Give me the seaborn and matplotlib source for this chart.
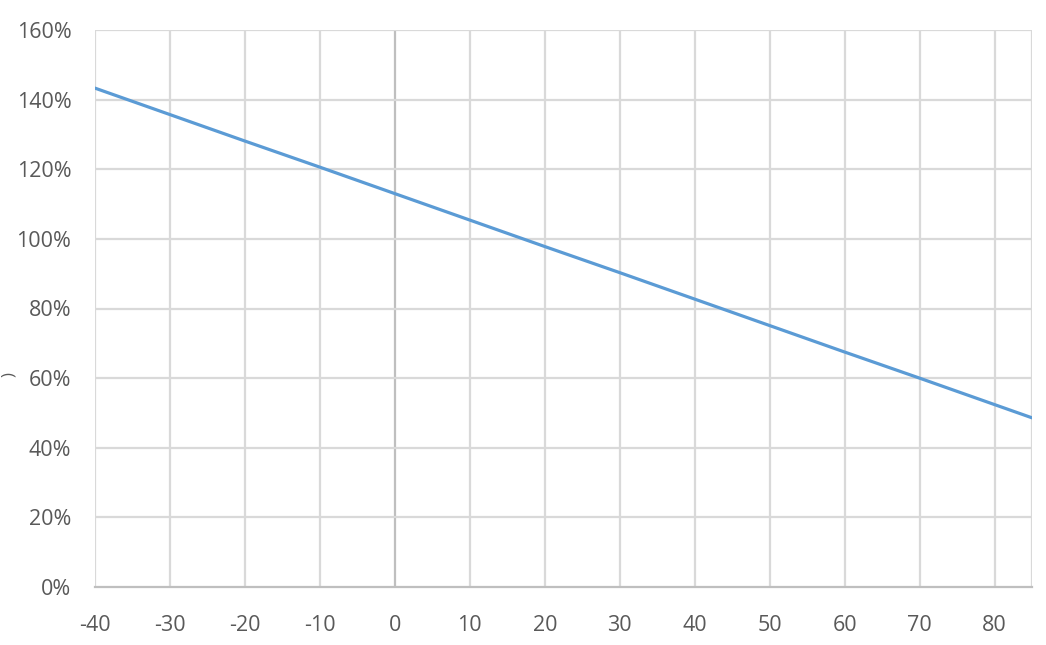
import numpy as np
import matplotlib.pyplot as plt
import seaborn as sns
import pandas as pd

# values
temps = [-40, -30, -20, -10, 0, 10, 20, 30, 40, 50, 60, 70, 80, 85]
ratio = [1.433, 1.357, 1.281, 1.206, 1.130, 1.054, 0.978, 0.903, 0.827, 0.751, 0.675, 0.600, 0.524, 0.486]
xticks = [-40, -30, -20, -10, 0, 10, 20, 30, 40, 50, 60, 70, 80]
yticks = [0, 0.2, 0.4, 0.6, 0.8, 1.0, 1.2, 1.4, 1.6]

df = pd.DataFrame({"temp": temps, "ratio": ratio})

sns.set_style("white")
plt.rcParams['font.family'] = ['Open Sans', 'DejaVu Sans']
plt.rcParams['axes.unicode_minus'] = False

fig = plt.figure(figsize=(10.46, 6.45), dpi=100)
ax = fig.add_axes([95 / 1046, 1 - 587 / 645, (1032 - 95) / 1046, (587 - 30) / 645])

grid_col = "#d9d9d9"
for x in xticks:
    ax.axvline(x, color="#bfbfbf" if x == 0 else grid_col, lw=1.6, zorder=0)
for y in yticks[1:]:
    ax.axhline(y, color=grid_col, lw=1.6, zorder=0)
ax.axvline(85, color=grid_col, lw=1.6, zorder=0)

sns.lineplot(data=df, x="temp", y="ratio", color="#5b9bd5", lw=2.3, ax=ax, zorder=3)

ax.set_xlim(-40, 85)
ax.set_ylim(0, 1.6)
ax.set_xticks(xticks)
ax.set_yticks(yticks)
ax.set_yticklabels([f"{int(round(v * 100))}%" for v in yticks])
ax.set_xlabel("")
ax.set_ylabel("")
ax.tick_params(axis="both", length=0, labelsize=15.5, labelcolor="#595959")
ax.tick_params(axis="x", pad=20)
ax.tick_params(axis="y", pad=17)

for side in ["top", "right", "left"]:
    ax.spines[side].set_visible(False)
ax.spines["bottom"].set_color("#bfbfbf")
ax.spines["bottom"].set_linewidth(1.6)

# axis title fragment at the left edge
fig.text(0.001, 1 - 375 / 645, ")", rotation=90, fontsize=12, color="#595959",
         ha="left", va="center")

plt.savefig("out.png", dpi=100)
